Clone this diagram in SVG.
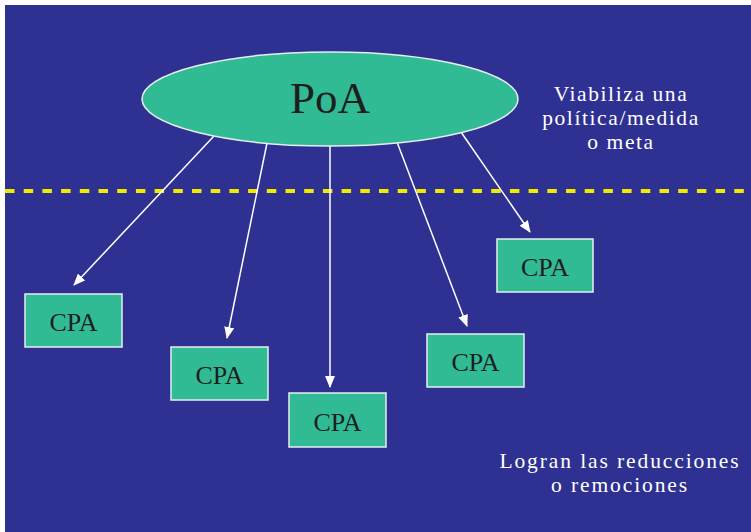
<svg xmlns="http://www.w3.org/2000/svg" width="751" height="532" viewBox="0 0 751 532">
<defs>
<style>
.bg{fill:#2e3192}
.node rect{fill:#30bb95;stroke:#e8eef0;stroke-width:1.5}
.node text{font-family:"Liberation Serif",serif;font-size:26px;fill:#1e1e1e;text-anchor:middle}
.lbl{font-family:"Liberation Serif",serif;font-size:21.5px;fill:#ffffff;text-anchor:middle;letter-spacing:1.6px}
.conn line{stroke:#ffffff;stroke-width:1.5;marker-end:url(#ah)}
</style>
<marker id="ah" viewBox="0 0 12 10" refX="11" refY="5" markerWidth="12" markerHeight="10" markerUnits="userSpaceOnUse" orient="auto">
<path d="M0,0 L12,5 L0,10 z" fill="#ffffff"/>
</marker>
</defs>
<rect x="0" y="0" width="751" height="532" fill="#ffffff"/>
<rect class="bg" x="5" y="5" width="746" height="527"/>
<line x1="5" y1="191" x2="751" y2="191" stroke="#f2ea00" stroke-width="4" stroke-dasharray="9.5 9.2"/>
<g id="connectors" class="conn">
<line x1="214" y1="136" x2="74" y2="285"/>
<line x1="267" y1="143" x2="227" y2="338"/>
<line x1="330" y1="146" x2="330" y2="387"/>
<line x1="397" y1="142" x2="467" y2="326"/>
<line x1="461" y1="132" x2="530" y2="232"/>
</g>
<g id="poa" class="node">
<ellipse cx="330" cy="99" rx="188" ry="47" fill="#30bb95" stroke="#e8eef0" stroke-width="1.5"/>
<text x="330" y="113" style="font-size:45px">PoA</text>
</g>
<g id="cpa1" class="node">
<rect x="25" y="294" width="97" height="53"/>
<text x="73.5" y="331">CPA</text>
</g>
<g id="cpa2" class="node">
<rect x="171" y="347" width="97" height="53"/>
<text x="219.5" y="384">CPA</text>
</g>
<g id="cpa3" class="node">
<rect x="289" y="393" width="97" height="54"/>
<text x="337.5" y="430.5">CPA</text>
</g>
<g id="cpa4" class="node">
<rect x="427" y="334" width="97" height="53"/>
<text x="475.5" y="371">CPA</text>
</g>
<g id="cpa5" class="node">
<rect x="497" y="239" width="96" height="53"/>
<text x="545" y="276">CPA</text>
</g>
<g id="label-top">
<text class="lbl" x="621" y="101">Viabiliza una</text>
<text class="lbl" x="621" y="125">política/medida</text>
<text class="lbl" x="621" y="149">o meta</text>
</g>
<g id="label-bottom">
<text class="lbl" x="620" y="468" style="letter-spacing:1.9px">Logran las reducciones</text>
<text class="lbl" x="620" y="492" style="letter-spacing:1.9px">o remociones</text>
</g>
</svg>
